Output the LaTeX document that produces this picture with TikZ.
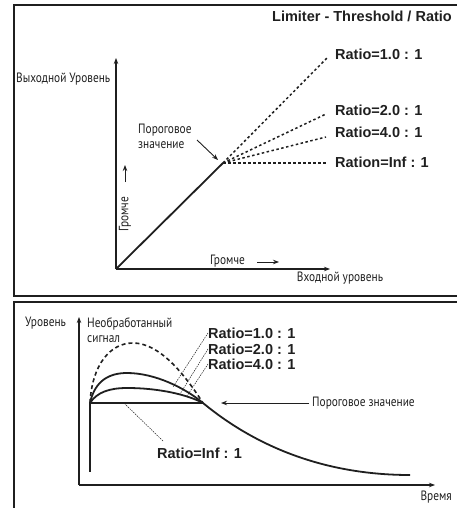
\documentclass[tikz,border=0pt]{standalone}
\usepackage{fontspec}
\setmainfont{Liberation Sans}
\newfontfamily\cyr[FakeStretch=0.84]{PT Sans}
\usetikzlibrary{arrows.meta}
\definecolor{ink}{gray}{0.12}
\begin{document}
\begin{tikzpicture}[x=1pt,y=-1pt,
  lbl/.style={font=\fontsize{14.5}{15}\selectfont\bfseries, inner sep=0, anchor=west, text=ink},
  ru/.style={font=\cyr\fontsize{13.5}{15}\selectfont, inner sep=0, text=ink},
  frame/.style={line width=2pt, draw=ink},
  axis/.style={line width=1.2pt, draw=ink, -{Stealth[length=6pt,width=4.5pt]}},
  thick line/.style={line width=1.8pt, draw=ink},
  dotline/.style={line width=1.5pt, draw=ink, dash pattern=on 2.5pt off 2.5pt},
  rawline/.style={line width=1.6pt, draw=ink, dash pattern=on 4pt off 3pt},
  leader/.style={line width=0.5pt, draw=ink, dash pattern=on 1.5pt off 1pt},
  pointer/.style={line width=0.9pt, draw=ink, -{Stealth[length=6pt,width=4.5pt]}}
]
\useasboundingbox (0,0) rectangle (457,508);
\clip (0,0) rectangle (457,508);
% frames
\draw[frame] (470,5) -| (14,296) -- (470,296);
\draw[frame] (14,520) |- (470,302);

% ---------- top panel ----------
\node[lbl, anchor=east] (title) at (452,16) {Limiter - Threshold / Ratio};
\coordinate (O) at (116,269);
\coordinate (Yend) at (116,58);
\coordinate (Xend) at (330,269);
\coordinate (T) at (223,163);
\draw[axis] (O) -- (Yend);
\draw[axis] (O) -- (Xend);
\draw[thick line] (O) -- (T);
\coordinate (R1) at (328,57);
\coordinate (R2) at (326,114);
\coordinate (R4) at (326,137);
\coordinate (Ri) at (326,163);
\draw[dotline] (T) -- (R1);
\draw[dotline] (T) -- (R2);
\draw[dotline] (T) -- (R4);
\draw[dotline] (T) -- (Ri);
\node[lbl] (l1) at (335,54) {Ratio=1.0 : 1};
\node[lbl] (l2) at (335,110) {Ratio=2.0 : 1};
\node[lbl] (l4) at (335,132) {Ratio=4.0 : 1};
\node[lbl] (li) at (335,162) {Ration=Inf : 1};

\node[ru, anchor=west] (ylab) at (16,79) {Выходной Уровень};
\node[ru] (xlab) at (340,278) {Входной уровень};
\node[ru, anchor=west, align=left] (thr) at (138,136) {Пороговое\\значение};
\coordinate (ta) at (197,140);
\coordinate (tb) at (218,160);
\draw[pointer] (ta) -- (tb);
\node[ru, anchor=west] (lh) at (210,261) {Громче};
\coordinate (lha) at (257,262);
\coordinate (lhb) at (279,262);
\draw[pointer] (lha) -- (lhb);
\node[ru, rotate=90] (lv) at (125,214) {Громче};
\coordinate (lva) at (125,182);
\coordinate (lvb) at (125,165);
\draw[pointer] (lva) -- (lvb);

% ---------- bottom panel ----------
\coordinate (B0) at (79,485);
\coordinate (BY) at (79,317);
\coordinate (BX) at (435,485);
\draw[axis] (B0) -- (BY);
\draw[axis] (B0) -- (BX);
\node[ru, anchor=west] (lev) at (25,323) {Уровень};
\node[ru, anchor=west, align=left] (raw) at (87,330) {Необработанный\\сигнал};
\node[ru, anchor=east] (time) at (452,497) {Время};
\node[ru, anchor=west] (thr2) at (312,403) {Пороговое значение};

\coordinate (S) at (90,403);
\coordinate (P) at (203,403);
\coordinate (Sb) at (90,472);
\coordinate (E) at (410,475);
\draw[rawline] (S) .. controls (92,365) and (110,343) .. (133,343)
                   .. controls (160,343) and (185,375) .. (P);
\draw[thick line] (S) .. controls (95,380) and (110,373) .. (127,373)
                   .. controls (155,373) and (185,388) .. (P);
\draw[thick line] (S) .. controls (97,392) and (110,388) .. (127,388)
                   .. controls (160,388) and (188,395) .. (P);
\draw[thick line] (S) -- (P);
\draw[thick line] (S) -- (Sb);
\draw[thick line] (P) .. controls (260,450) and (330,475) .. (E);

\coordinate (pa) at (309,403);
\coordinate (pb) at (221,403);
\draw[pointer] (pa) -- (pb);

\node[lbl] (b1) at (208,333) {Ratio=1.0 : 1};
\node[lbl] (b2) at (208,349) {Ratio=2.0 : 1};
\node[lbl] (b4) at (208,364) {Ratio=4.0 : 1};
\node[lbl] (bi) at (157,453) {Ratio=Inf : 1};
\coordinate (k1) at (173,387);
\coordinate (k2) at (180,394);
\coordinate (k4) at (187,396);
\coordinate (ki) at (125,404);
\draw[leader] (b1.west) -- (k1);
\draw[leader] (b2.west) -- (k2);
\draw[leader] (b4.west) -- (k4);
\draw[leader] (163,441) -- (ki);
\end{tikzpicture}
\end{document}
